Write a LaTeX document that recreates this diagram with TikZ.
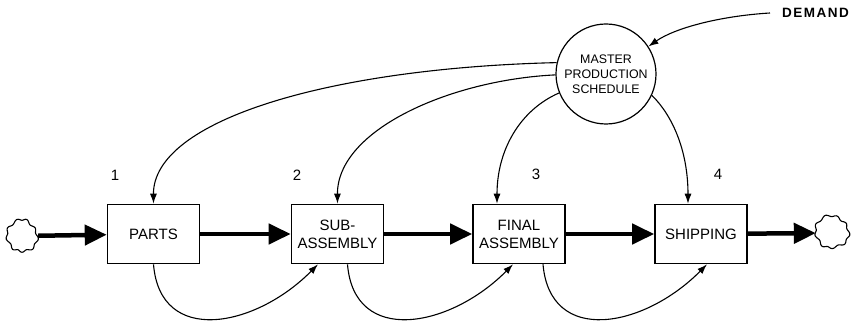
\documentclass[tikz,border=0pt]{standalone}
\usepackage{fontspec}
\setmainfont{Liberation Sans}
\usetikzlibrary{arrows.meta,calc}

\begin{document}
\begin{tikzpicture}[x=1pt,y=-1pt,
  stock/.style={draw, line width=1.6pt, rectangle, minimum width=92pt, minimum height=59pt,
    inner sep=0pt, align=center, font=\fontsize{15}{18}\selectfont},
  sched/.style={draw, line width=1.2pt, circle, minimum size=100pt, inner sep=0pt,
    align=center, font=\fontsize{12.4}{15}\selectfont},
  source/.style={circle, inner sep=0pt, minimum size=32pt},
  wavy/.style={line width=1.1pt, line join=round},
  flow/.style={line width=4.5pt, -{Triangle[length=22pt,width=20pt]}},
  info/.style={line width=1.1pt, -{Latex[length=10pt,width=7pt]}},
  stepnum/.style={font=\fontsize{15}{15}\selectfont, inner sep=0pt}
]
\useasboundingbox (0,0) rectangle (865,323);

% stocks along the production line
\node[stock] (parts) at (153.5,234) {PARTS};
\node[stock] (sub)   at (337.5,234) {SUB-\\ASSEMBLY};
\node[stock] (final) at (519,234)   {FINAL\\ASSEMBLY};
\node[stock] (ship)  at (701,234)   {SHIPPING};

% source and sink, each outlined by a wavy cloud
\node[source] (src) at (22,236) {};
\node[source] (snk) at (832,233) {};
\draw[wavy] plot[domain=0:355, samples=72, smooth cycle]
  ({22+(14.5+1.1*sin(9*\x)+1.2*sin(2*\x+40))*cos(\x)},
   {236+(16+1.1*sin(9*\x)+0.8*sin(3*\x))*sin(\x)});
\draw[wavy] plot[domain=0:355, samples=72, smooth cycle]
  ({832+(16.5+1.1*sin(9*\x+20)+1.0*sin(2*\x+10))*cos(\x)},
   {232+(16+1.1*sin(9*\x+20)+0.8*sin(3*\x+60))*sin(\x)});

% schedule and demand
\node[sched] (mps) at (606,74) {MASTER\\PRODUCTION\\SCHEDULE};
\node[anchor=west, inner sep=0pt, inner xsep=12pt,
  font=\fontsize{13.5}{14}\selectfont\bfseries\addfontfeature{LetterSpace=11}] (demand) at (770,13) {DEMAND};

% stage numbers
\node[stepnum] (n1) at (115,175) {1};
\node[stepnum] (n2) at (297,175) {2};
\node[stepnum] (n3) at (536,174) {3};
\node[stepnum] (n4) at (718,174) {4};

% material flows
\draw[flow] (src) -- (parts);
\draw[flow] (parts) -- (sub);
\draw[flow] (sub) -- (final);
\draw[flow] (final) -- (ship);
\draw[flow] (ship) -- (snk);

% demand into the schedule
\draw[info] (demand.west) .. controls (720,16) and (675,28) .. (mps.33);

% schedule to each stage
\draw[info] (mps.167) .. controls (330,68) and (153,120) .. (parts.north);
\draw[info] (mps.181) .. controls (450,80) and (337,130) .. (sub.north);
\draw[info] (mps.202) .. controls (520,110) and (497,150) .. ([xshift=-22pt]final.north);
\draw[info] (mps.335) .. controls (672,115) and (688,150) .. ([xshift=-13pt]ship.north);

% stage to next stage
\draw[info] (parts.south) .. controls (160,346) and (255,328) .. ([xshift=-19.5pt]sub.south);
\draw[info] ([xshift=10pt]sub.south) .. controls (354,346) and (450,328) .. ([xshift=-6pt]final.south);
\draw[info] ([xshift=24pt]final.south) .. controls (550,346) and (644,328) .. ([xshift=6pt]ship.south);
\end{tikzpicture}
\end{document}
